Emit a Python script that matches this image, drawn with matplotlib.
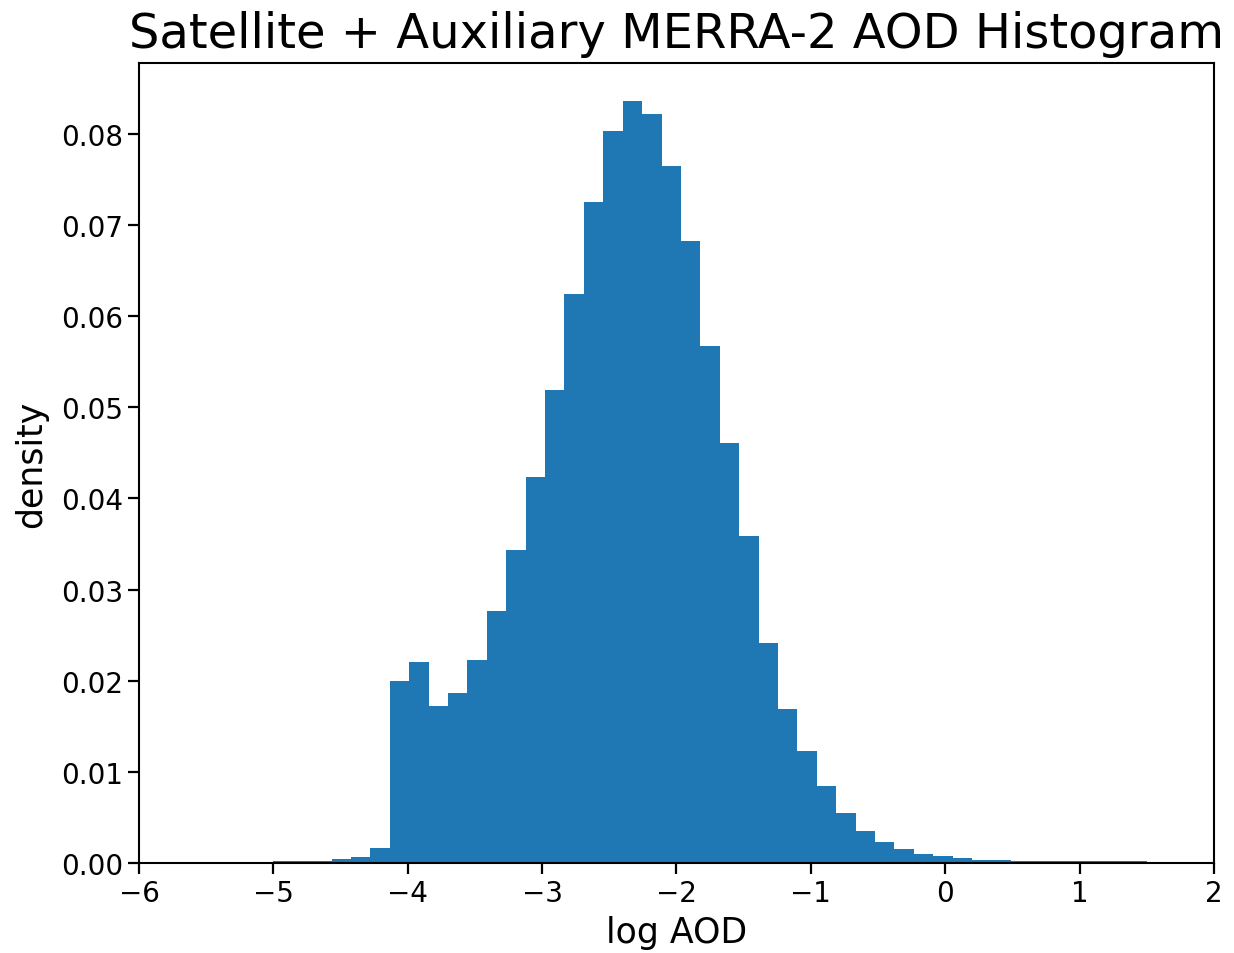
import numpy as np
import matplotlib
matplotlib.use("Agg")
import matplotlib.pyplot as plt

# Histogram bin range and per-bin heights
bin_start = -5.0
bin_end = 1.5
n_bins = 45
heights = [
    0.00025, 0.00025, 0.00025, 0.00044, 0.00062, 0.00168,
    0.0200, 0.0221, 0.0172, 0.0187, 0.0223,
    0.0276, 0.0343, 0.0424, 0.0519, 0.0624,
    0.0725, 0.0803, 0.0836, 0.0822, 0.0765,
    0.0683, 0.0567, 0.0461, 0.0359, 0.0241,
    0.0169, 0.0123, 0.0085, 0.0055, 0.0035,
    0.0023, 0.0015, 0.0010, 0.0008, 0.0005,
    0.0003, 0.0003,
    0.0002, 0.0002, 0.0002, 0.0002, 0.0002, 0.0002, 0.0002,
]
x_ticks = [-6, -5, -4, -3, -2, -1, 0, 1, 2]
title = "Satellite + Auxiliary MERRA-2 AOD Histogram"
x_label = "log AOD"
y_label = "density"

edges = np.linspace(bin_start, bin_end, n_bins + 1)
centers = (edges[:-1] + edges[1:]) / 2

fig = plt.figure(figsize=(12.34, 9.54), dpi=100)
ax = fig.add_axes([0.1126, 0.0943, 0.8712, 0.8386])
ax.hist(centers, bins=edges, weights=heights, color="#1f77b4")
ax.set_xlim(-6, 2)
ax.set_xticks(x_ticks)
ax.set_title(title, fontsize=34.6, pad=11.5)
ax.set_xlabel(x_label, fontsize=25, labelpad=6)
ax.set_ylabel(y_label, fontsize=25, labelpad=9)
ax.tick_params(labelsize=20, length=8, width=1.6)
for s in ax.spines.values():
    s.set_linewidth(1.5)

fig.savefig("out.png", dpi=100)
